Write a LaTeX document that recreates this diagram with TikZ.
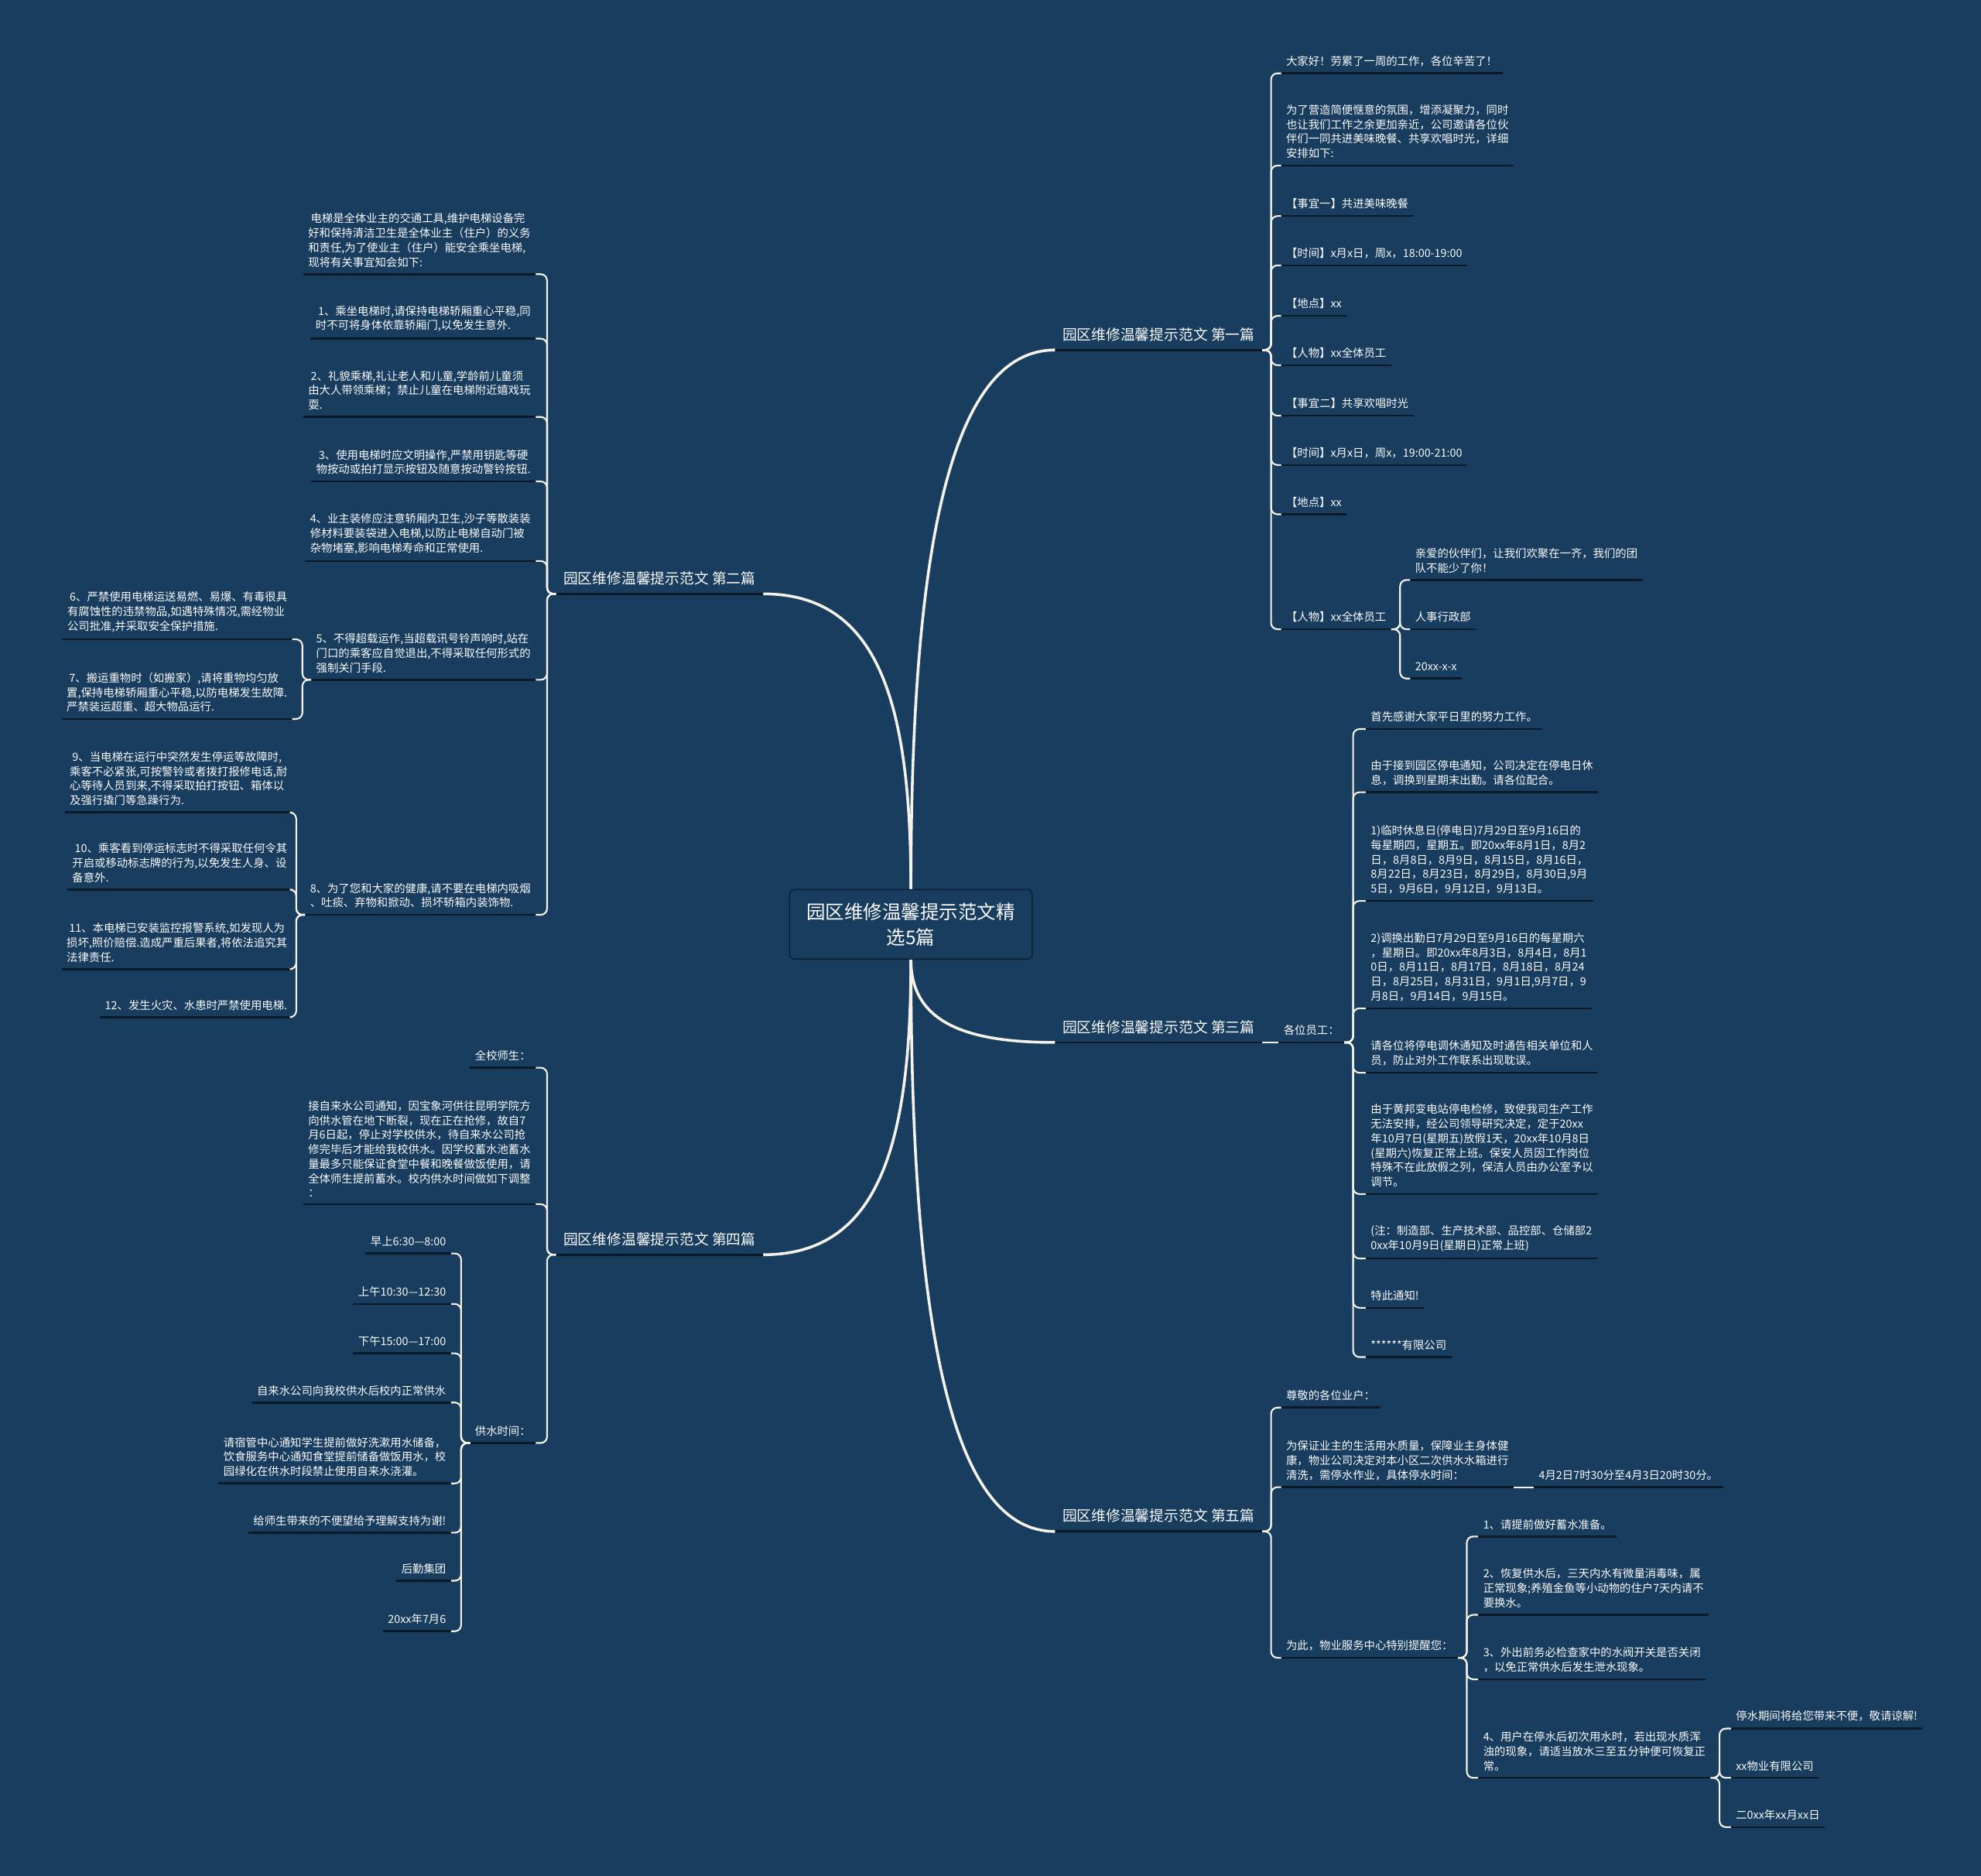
\documentclass[tikz,border=0pt]{standalone}
\usepackage{fontspec}
\newfontfamily\cjk{Noto Sans CJK SC}
\definecolor{bgc}{RGB}{24,61,94}
\definecolor{lnc}{RGB}{244,241,232}
\definecolor{ulc}{RGB}{12,26,40}
\definecolor{txt}{RGB}{250,250,250}
\definecolor{rootbd}{RGB}{14,32,50}
\newcommand\rlink[2]{\draw[br] (#1.south east) -- ++(7,0) |- (#2.south west);}
\newcommand\llink[2]{\draw[br] (#1.south west) -- ++(-7,0) |- (#2.south east);}
\tikzset{
  rt/.style={anchor=south west, inner xsep=4pt, inner ysep=5.5pt, outer sep=0pt, align=left, text=txt, font=\cjk\fontsize{8.8}{11.5}\selectfont},
  lt/.style={rt, anchor=south east},
  ttr/.style={rt, inner xsep=6pt, inner ysep=7pt, font=\cjk\fontsize{11.5}{14}\selectfont},
  ulst/.style={draw=ulc, line width=1.6pt},
  br/.style={draw=lnc, line width=1.3pt, rounded corners=5pt},
  mainln/.style={draw=lnc, line width=2.2pt},
  rootst/.style={draw=rootbd, fill=bgc, rounded corners=4pt, minimum width=192pt, minimum height=55pt, align=center, text=txt, font=\cjk\fontsize{15}{20}\selectfont, line width=1pt},
}
\begin{document}
\begin{tikzpicture}[x=1pt,y=-1pt]
\useasboundingbox (0,0) rectangle (1568,1484.7);
\fill[bgc] (0,0) rectangle (1568,1484.7);

% root
\node[rootst] (root) at (721,731.5) {园区维修温馨提示范文精\\选5篇};

% titles
\node[ttr] (b1) at (835,277) {园区维修温馨提示范文 第一篇};
\node[ttr] (b2) at (440,470) {园区维修温馨提示范文 第二篇};
\node[ttr] (b3) at (835,825) {园区维修温馨提示范文 第三篇};
\node[ttr] (b4) at (440,993) {园区维修温馨提示范文 第四篇};
\node[ttr] (b5) at (835,1212) {园区维修温馨提示范文 第五篇};

% ---------- branch 1 ----------
\node[rt] (a1) at (1014,58) {大家好！劳累了一周的工作，各位辛苦了！};
\node[rt] (a2) at (1014,131) {为了营造简便惬意的氛围，增添凝聚力，同时\\也让我们工作之余更加亲近，公司邀请各位伙\\伴们一同共进美味晚餐、共享欢唱时光，详细\\安排如下:};
\node[rt] (a3) at (1014,171) {【事宜一】共进美味晚餐};
\node[rt] (a4) at (1014,210) {【时间】x月x日，周x，18:00-19:00};
\node[rt] (a5) at (1014,250) {【地点】xx};
\node[rt] (a6) at (1014,289) {【人物】xx全体员工};
\node[rt] (a7) at (1014,329) {【事宜二】共享欢唱时光};
\node[rt] (a8) at (1014,368) {【时间】x月x日，周x，19:00-21:00};
\node[rt] (a9) at (1014,407) {【地点】xx};
\node[rt] (a10) at (1014,498) {【人物】xx全体员工};
\coordinate (sa) at ([xshift=15pt]a10.south east);
\node[rt] (a10a) at (sa |- 0,459) {亲爱的伙伴们，让我们欢聚在一齐，我们的团\\队不能少了你！};
\node[rt] (a10b) at (sa |- 0,498) {人事行政部};
\node[rt] (a10c) at (sa |- 0,537) {\vphantom{国}20xx-x-x};

% ---------- branch 3 ----------
\node[rt] (g) at (1012,825) {各位员工：};
\coordinate (sg) at ([xshift=17pt]g.south east);
\node[rt] (c1) at (sg |- 0,577) {首先感谢大家平日里的努力工作。};
\node[rt] (c2) at (sg |- 0,627) {由于接到园区停电通知，公司决定在停电日休\\息，调换到星期末出勤。请各位配合。};
\node[rt] (c3) at (sg |- 0,713) {1)临时休息日(停电日)7月29日至9月16日的\\每星期四，星期五。即20xx年8月1日，8月2\\日，8月8日，8月9日，8月15日，8月16日，\\8月22日，8月23日，8月29日，8月30日,9月\\5日，9月6日，9月12日，9月13日。};
\node[rt] (c4) at (sg |- 0,798) {2)调换出勤日7月29日至9月16日的每星期六\\，星期日。即20xx年8月3日，8月4日，8月1\\0日，8月11日，8月17日，8月18日，8月24\\日，8月25日，8月31日，9月1日,9月7日，9\\月8日，9月14日，9月15日。};
\node[rt] (c5) at (sg |- 0,849) {请各位将停电调休通知及时通告相关单位和人\\员，防止对外工作联系出现耽误。};
\node[rt] (c6) at (sg |- 0,945) {由于黄邦变电站停电检修，致使我司生产工作\\无法安排，经公司领导研究决定，定于20xx\\年10月7日(星期五)放假1天，20xx年10月8日\\(星期六)恢复正常上班。保安人员因工作岗位\\特殊不在此放假之列，保洁人员由办公室予以\\调节。};
\node[rt] (c7) at (sg |- 0,996) {(注：制造部、生产技术部、品控部、仓储部2\\0xx年10月9日(星期日)正常上班)};
\node[rt] (c8) at (sg |- 0,1035) {特此通知!};
\node[rt] (c9) at (sg |- 0,1074) {******有限公司};

% ---------- branch 5 ----------
\node[rt] (e1) at (1014,1114) {尊敬的各位业户：};
\node[rt] (e2) at (1014,1177) {为保证业主的生活用水质量，保障业主身体健\\康，物业公司决定对本小区二次供水水箱进行\\清洗，需停水作业，具体停水时间：};
\node[rt] (e2a) at ([xshift=16pt]e2.south east) {4月2日7时30分至4月3日20时30分。};
\node[rt] (e3) at (1014,1312) {为此，物业服务中心特别提醒您：};
\coordinate (se) at ([xshift=16pt]e3.south east);
\node[rt] (f1) at (se |- 0,1216) {1、请提前做好蓄水准备。};
\node[rt] (f2) at (se |- 0,1278) {2、恢复供水后，三天内水有微量消毒味，属\\正常现象;养殖金鱼等小动物的住户7天内请不\\要换水。};
\node[rt] (f3) at (se |- 0,1329) {3、外出前务必检查家中的水阀开关是否关闭\\，以免正常供水后发生泄水现象。};
\node[rt] (f4) at (se |- 0,1407) {4、用户在停水后初次用水时，若出现水质浑\\浊的现象，请适当放水三至五分钟便可恢复正\\常。};
\coordinate (sf) at ([xshift=16pt]f4.south east);
\node[rt] (h1) at (sf |- 0,1368) {停水期间将给您带来不便，敬请谅解!};
\node[rt] (h2) at (sf |- 0,1407) {xx物业有限公司};
\node[rt] (h3) at (sf |- 0,1446) {二0xx年xx月xx日};

% ---------- branch 2 ----------
\node[lt] (l1) at (424,217) {\ 电梯是全体业主的交通工具,维护电梯设备完\\好和保持清洁卫生是全体业主（住户）的义务\\和责任,为了使业主（住户）能安全乘坐电梯,\\现将有关事宜知会如下:};
\node[lt] (l2) at (424,268) {\ 1、乘坐电梯时,请保持电梯轿厢重心平稳,同\\时不可将身体依靠轿厢门,以免发生意外.};
\node[lt] (l3) at (424,330) {\ 2、礼貌乘梯,礼让老人和儿童,学龄前儿童须\\由大人带领乘梯；禁止儿童在电梯附近嬉戏玩\\耍.};
\node[lt] (l4) at (424,381) {\ 3、使用电梯时应文明操作,严禁用钥匙等硬\\物按动或拍打显示按钮及随意按动警铃按钮.};
\node[lt] (l5) at (424,444) {4、业主装修应注意轿厢内卫生,沙子等散装装\\修材料要装袋进入电梯,以防止电梯自动门被\\杂物堵塞,影响电梯寿命和正常使用.};
\node[lt] (l6) at (424,538) {5、不得超载运作,当超载讯号铃声响时,站在\\门口的乘客应自觉退出,不得采取任何形式的\\强制关门手段.};
\node[lt] (l7) at (424,724) {8、为了您和大家的健康,请不要在电梯内吸烟\\、吐痰、弃物和掀动、损坏轿箱内装饰物.};
\coordinate (sl) at ([xshift=-15pt]l6.south west);
\node[lt] (m1) at (sl |- 0,506) {\ 6、严禁使用电梯运送易燃、易爆、有毒很具\\有腐蚀性的违禁物品,如遇特殊情况,需经物业\\公司批准,并采取安全保护措施.};
\node[lt] (m2) at (sl |- 0,569) {\ 7、搬运重物时（如搬家）,请将重物均匀放\\置,保持电梯轿厢重心平稳,以防电梯发生故障.\\严禁装运超重、超大物品运行.};
\node[lt] (n1) at (sl |- 0,643) {\ 9、当电梯在运行中突然发生停运等故障时,\\乘客不必紧张,可按警铃或者拨打报修电话,耐\\心等待人员到来,不得采取拍打按钮、箱体以\\及强行撬门等急躁行为.};
\node[lt] (n2) at (sl |- 0,704) {\ 10、乘客看到停运标志时不得采取任何令其\\开启或移动标志牌的行为,以免发生人身、设\\备意外.};
\node[lt] (n3) at (sl |- 0,767) {\ 11、本电梯已安装监控报警系统,如发现人为\\损坏,照价赔偿.造成严重后果者,将依法追究其\\法律责任.};
\node[lt] (n4) at (sl |- 0,805) {12、发生火灾、水患时严禁使用电梯.};

% ---------- branch 4 ----------
\node[lt] (k1) at (424,845) {全校师生：};
\node[lt] (k2) at (424,953) {接自来水公司通知，因宝象河供往昆明学院方\\向供水管在地下断裂，现在正在抢修，故自7\\月6日起，停止对学校供水，待自来水公司抢\\修完毕后才能给我校供水。因学校蓄水池蓄水\\量最多只能保证食堂中餐和晚餐做饭使用，请\\全体师生提前蓄水。校内供水时间做如下调整\\：};
\node[lt] (k3) at (424,1142) {供水时间：};
\coordinate (sk) at ([xshift=-15pt]k3.south west);
\node[lt] (j1) at (sk |- 0,992) {早上6:30—8:00};
\node[lt] (j2) at (sk |- 0,1032) {上午10:30—12:30};
\node[lt] (j3) at (sk |- 0,1071) {下午15:00—17:00};
\node[lt] (j4) at (sk |- 0,1110) {自来水公司向我校供水后校内正常供水};
\node[lt] (j5) at (sk |- 0,1174) {请宿管中心通知学生提前做好洗漱用水储备，\\饮食服务中心通知食堂提前储备做饭用水，校\\园绿化在供水时段禁止使用自来水浇灌。};
\node[lt] (j6) at (sk |- 0,1213) {给师生带来的不便望给予理解支持为谢!};
\node[lt] (j7) at (sk |- 0,1251) {后勤集团};
\node[lt] (j8) at (sk |- 0,1291) {20xx年7月6};

% underlines
\foreach \n in {b1,b2,b3,b4,b5,a1,a2,a3,a4,a5,a6,a7,a8,a9,a10,a10a,a10b,a10c,g,c1,c2,c3,c4,c5,c6,c7,c8,c9,e1,e2,e2a,e3,f1,f2,f3,f4,h1,h2,h3,l1,l2,l3,l4,l5,l6,l7,m1,m2,n1,n2,n3,n4,k1,k2,k3,j1,j2,j3,j4,j5,j6,j7,j8}
  \draw[ulst] (\n.south west) -- (\n.south east);

% main connectors
\draw[mainln] (root.north) .. controls +(0,-280) and +(-80,0) .. (b1.south west);
\draw[mainln] (root.north) .. controls +(0,-150) and +(90,0) .. (b2.south east);
\draw[mainln] (root.south) .. controls +(0,50) and +(-70,0) .. (b3.south west);
\draw[mainln] (root.south) .. controls +(0,150) and +(90,0) .. (b4.south east);
\draw[mainln] (root.south) .. controls +(0,300) and +(-80,0) .. (b5.south west);

% branch links
\foreach \c in {a1,a2,a3,a4,a5,a6,a7,a8,a9,a10} {\rlink{b1}{\c}}
\foreach \c in {a10a,a10b,a10c} {\rlink{a10}{\c}}
\draw[br] (b3.south east) -- (g.south west);
\foreach \c in {c1,c2,c3,c4,c5,c6,c7,c8,c9} {\rlink{g}{\c}}
\foreach \c in {e1,e2,e3} {\rlink{b5}{\c}}
\draw[br] (e2.south east) -- (e2a.south west);
\foreach \c in {f1,f2,f3,f4} {\rlink{e3}{\c}}
\foreach \c in {h1,h2,h3} {\rlink{f4}{\c}}
\foreach \c in {l1,l2,l3,l4,l5,l6,l7} {\llink{b2}{\c}}
\foreach \c in {m1,m2} {\llink{l6}{\c}}
\foreach \c in {n1,n2,n3,n4} {\llink{l7}{\c}}
\foreach \c in {k1,k2,k3} {\llink{b4}{\c}}
\foreach \c in {j1,j2,j3,j4,j5,j6,j7,j8} {\llink{k3}{\c}}
\end{tikzpicture}
\end{document}
